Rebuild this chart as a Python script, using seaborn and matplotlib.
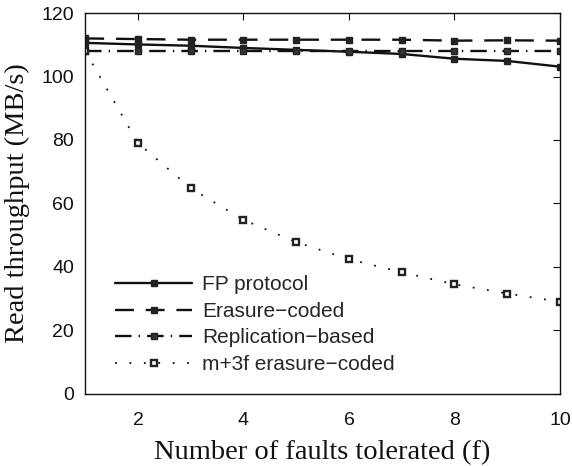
import numpy as np
import pandas as pd
import matplotlib
matplotlib.use("Agg")
import matplotlib.pyplot as plt
import seaborn as sns

faults = [1, 2, 3, 4, 5, 6, 7, 8, 9, 10]
fp_protocol = [110.6, 110.1, 109.7, 109.0, 108.4, 107.8, 107.1, 105.6, 104.9, 103.1]
erasure_coded = [112.0, 111.8, 111.6, 111.6, 111.6, 111.6, 111.6, 111.3, 111.4, 111.3]
replication_based = [108.1, 108.1, 108.1, 108.1, 108.1, 108.1, 108.1, 108.1, 108.1, 108.1]
m3f_erasure = [108.0, 79.0, 64.8, 54.8, 47.8, 42.4, 38.3, 34.5, 31.6, 29.0]

series_names = ["FP protocol", "Erasure\u2212coded", "Replication\u2212based", "m+3f erasure\u2212coded"]
series_vals = [fp_protocol, erasure_coded, replication_based, m3f_erasure]

sns.set_style("white")
plt.rcParams["font.family"] = ["Liberation Sans", "DejaVu Sans"]

fig = plt.figure(figsize=(5.72, 4.66), dpi=100)
ax = fig.add_axes([0.149, 0.155, 0.830, 0.817])

styles = [
    dict(linestyle="-", lw=1.7, marker="s", ms=5, mfc="#222222", mec="#222222"),
    dict(linestyle=(0, (8, 5)), lw=1.7, marker="s", ms=5, mfc="#222222", mec="#222222"),
    dict(linestyle=(0, (7, 3, 0.6, 3)), lw=1.7, marker="s", ms=5, mfc="#333333", mec="#222222"),
    dict(linestyle=(0, (1, 7)), lw=1.3, marker="s", ms=5, mfc="white", mec="#222222", mew=1.7),
]

for name, vals, st in zip(series_names, series_vals, styles):
    df = pd.DataFrame({"f": faults, "thr": vals})
    sns.lineplot(data=df, x="f", y="thr", ax=ax, color="#111111", label=name,
                 linestyle=st["linestyle"], linewidth=st["lw"], marker=st["marker"],
                 markersize=st["ms"], markerfacecolor=st["mfc"], markeredgecolor=st["mec"],
                 markeredgewidth=st.get("mew", 1.0), clip_on=True)

ax.set_xlim(1, 10)
ax.set_ylim(0, 120)
ax.set_xticks([2, 4, 6, 8, 10])
ax.set_yticks([0, 20, 40, 60, 80, 100, 120])
ax.tick_params(direction="in", length=5, width=0.8, top=True, right=True,
               labelsize=14, colors="#111111")
ax.tick_params(axis="x", pad=13)
ax.tick_params(axis="y", pad=8)
for sp in ax.spines.values():
    sp.set_visible(True)
    sp.set_color("#111111")
    sp.set_linewidth(1.0)

ax.set_xlabel("Number of faults tolerated (f)", family=["Liberation Serif", "DejaVu Serif"],
              fontsize=20.5, color="#111111", labelpad=8)
ax.set_ylabel("Read throughput (MB/s)", family=["Liberation Serif", "DejaVu Serif"],
              fontsize=20.5, color="#111111", labelpad=8)

leg = ax.legend(loc="lower left", bbox_to_anchor=(0.063, 0.052), frameon=False,
                fontsize=15, handlelength=3.7, handletextpad=0.48, labelspacing=0.36,
                borderaxespad=0.0, borderpad=0.0)

fig.savefig("out.png", dpi=100)
